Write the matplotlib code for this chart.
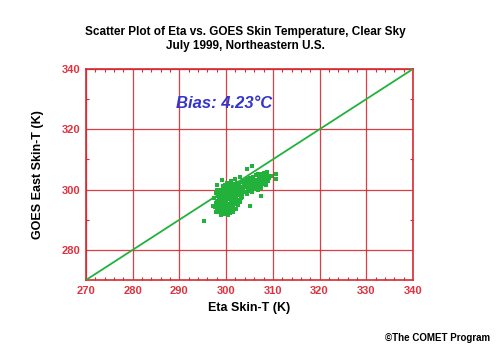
import matplotlib
matplotlib.use("Agg")
import matplotlib.pyplot as plt

plt.rcParams['font.family'] = ['Liberation Sans', 'DejaVu Sans']

# axis ticks
ticks_x = [270, 280, 290, 300, 310, 320, 330, 340]
ticks_y = [280, 300, 320, 340]

# dense core of the cloud (Eta skin T, GOES skin T), kelvin
core_eta = [298.1, 298.4, 298.7, 299.0, 299.3, 299.6, 299.9, 300.2, 300.5, 300.8,
            301.1, 301.4, 298.3, 298.6, 298.9, 299.2, 299.5, 299.8, 300.1, 300.4,
            300.7, 301.0, 301.3, 301.6, 301.9, 298.0, 298.5, 298.8, 299.1, 299.4,
            299.7, 300.0, 300.3, 300.6, 300.9, 301.2, 301.5, 301.8, 302.1, 298.2,
            298.6, 298.9, 299.2, 299.5, 299.8, 300.1, 300.4, 300.7, 301.0, 301.3,
            301.6, 301.9, 302.2, 297.9, 298.4, 298.7, 299.0, 299.3, 299.6, 299.9,
            300.2, 300.5, 300.8, 301.1, 301.4, 301.7, 302.0, 302.3, 299.4, 299.8,
            300.3, 300.7, 301.2, 301.6, 302.0, 302.4, 298.3, 298.6, 299.0, 299.7,
            300.3, 300.9, 301.5, 302.2, 302.6, 302.9, 303.2, 297.8, 297.6, 298.1,
            298.9, 299.4, 299.9, 300.4, 300.9, 301.4, 301.9, 302.4, 302.8, 303.3,
            299.1, 299.6, 300.1, 300.6, 301.1, 301.6, 302.1, 302.6, 303.0, 303.5]
core_goes = [293.2, 292.6, 293.8, 292.3, 293.1, 292.0, 292.8, 292.4, 293.4, 292.9,
             293.6, 293.9, 294.6, 295.3, 294.2, 295.0, 294.5, 295.6, 294.1, 295.2,
             294.7, 295.5, 294.9, 295.9, 296.4, 296.3, 296.9, 296.0, 297.2, 296.5,
             297.0, 296.2, 297.4, 296.7, 297.6, 296.8, 297.3, 298.0, 297.7, 297.9,
             298.4, 297.8, 298.7, 298.1, 299.0, 298.5, 298.9, 298.2, 299.3, 298.6,
             299.1, 298.8, 299.4, 298.9, 299.5, 300.0, 299.6, 300.3, 299.8, 300.6,
             300.1, 300.5, 299.9, 300.7, 300.2, 300.9, 300.4, 301.0, 301.3, 301.6,
             301.2, 301.8, 301.4, 302.0, 301.7, 302.3, 292.9, 294.0, 291.7, 291.9,
             291.5, 292.1, 292.6, 293.7, 294.8, 296.0, 297.1, 295.7, 294.3, 299.9,
             293.0, 293.5, 293.9, 294.0, 293.3, 294.4, 295.1, 295.4, 296.6, 298.0,
             295.8, 296.6, 297.0, 297.9, 298.2, 299.7, 299.8, 300.0, 300.6, 300.4]

# warmer elongated band
band_eta = [302.5, 302.8, 303.1, 303.4, 303.7, 304.0, 304.3, 304.6, 304.9, 305.2,
            305.5, 305.8, 306.1, 306.4, 306.7, 307.0, 307.3, 307.6, 307.9, 308.2,
            308.5, 308.8, 302.7, 303.3, 303.9, 304.5, 305.1, 305.7, 306.3, 306.9,
            307.5, 308.1, 302.9, 303.5, 304.1, 304.7, 305.3, 305.9, 306.5, 307.1,
            307.7, 308.3, 308.9, 303.3, 304.4, 305.6, 306.8, 307.4, 308.6, 309.2,
            303.8, 304.2, 304.8, 305.4, 306.0, 306.6, 307.2, 307.8, 305.0, 306.2]
band_goes = [299.1, 300.3, 299.6, 300.9, 300.1, 301.4, 300.7, 302.0, 301.1, 302.4,
             301.6, 302.8, 302.0, 303.3, 302.4, 303.7, 302.8, 304.0, 303.2, 304.3,
             303.5, 304.5, 301.9, 302.5, 303.0, 303.4, 303.9, 304.3, 304.7, 305.0,
             305.3, 305.6, 298.2, 298.8, 299.3, 299.8, 300.3, 300.8, 301.2, 301.6,
             302.0, 302.5, 302.9, 297.5, 298.5, 299.2, 300.0, 300.6, 301.4, 303.8,
             301.8, 302.2, 302.4, 301.0, 302.7, 301.5, 304.2, 302.3, 299.5, 300.2]

# scattered points
stray_eta = [295.2, 297.1, 297.8, 305.0, 307.4, 305.5, 304.5, 299.1, 310.6, 310.6,
             308.7, 298.0, 297.5, 309.6, 303.0, 302.0, 301.1, 300.2]
stray_goes = [289.6, 294.6, 292.6, 294.4, 298.0, 307.9, 306.9, 303.2, 305.3, 303.6,
              305.8, 301.5, 297.2, 304.6, 304.1, 303.4, 302.7, 302.3]

bias = 4.23

red = '#d62a32'
green = '#22b23c'

fig = plt.figure(figsize=(5, 3.5), dpi=100)
ax = fig.add_axes([0.172, 0.2, 0.654, 0.603])

# 1:1 line
ax.plot([270, 340], [270, 340], color=green, lw=1.3, zorder=3)

for eta, goes in [(core_eta, core_goes), (band_eta, band_goes), (stray_eta, stray_goes)]:
    ax.scatter(eta, goes, s=8, marker='s', color=green, linewidths=0, zorder=4)

ax.set_xlim(270, 340)
ax.set_ylim(270, 340)
ax.set_xticks(ticks_x)
ax.set_yticks(ticks_y)
ax.set_xticks(range(272, 340, 2), minor=True)
ax.set_yticks([290, 310, 330], minor=True)
ax.grid(True, which='major', color=red, lw=0.9, alpha=0.9)
ax.tick_params(which='major', length=0, pad=4, labelcolor='#e0323e', labelsize=8)
ax.tick_params(which='minor', direction='in', length=2.5, color=red, width=0.8,
               top=True, right=True)
for lbl in ax.get_xticklabels() + ax.get_yticklabels():
    lbl.set_fontweight('bold')
for sp in ax.spines.values():
    sp.set_color(red)
    sp.set_linewidth(1.2)

ax.set_xlabel('Eta Skin-T (K)', fontsize=9, fontweight='bold', labelpad=5)
ax.set_ylabel('GOES East Skin-T (K)', fontsize=9, fontweight='bold', labelpad=13)

ax.text(289.3, 328.7, 'Bias: %.2f\u00b0C' % bias, color='#3535cc', fontsize=12,
        fontweight='bold', fontstyle='italic', va='center', ha='left')

fig.text(0.49, 0.889, 'Scatter Plot of Eta vs. GOES Skin Temperature, Clear Sky\nJuly 1999, Northeastern U.S.',
         ha='center', va='center', fontsize=8.5, fontweight='bold', linespacing=1.15)
fig.text(0.98, 0.035, '\u00a9The COMET Program', ha='right', va='center',
         fontsize=7, fontweight='bold')

fig.savefig('out.png', dpi=100)
